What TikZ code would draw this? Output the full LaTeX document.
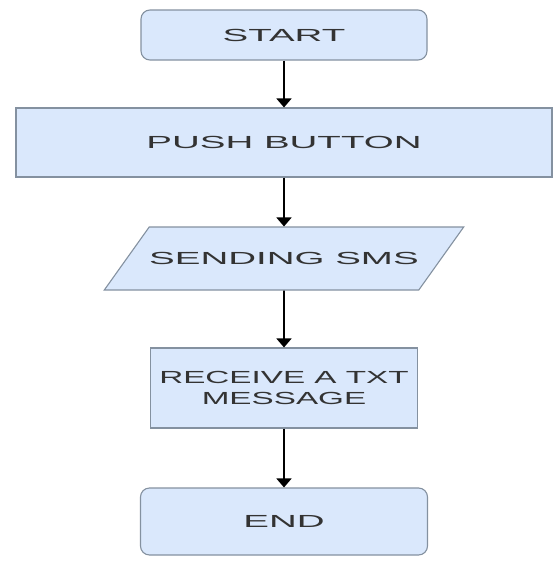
\documentclass[tikz,border=0pt]{standalone}
\usepackage{fontspec}
\newfontfamily\boxfont[FakeStretch=2.2]{Liberation Sans}
\newfontfamily\msgfont[FakeStretch=1.9]{Liberation Sans}
\usepackage{tikz}
\usetikzlibrary{shapes, arrows.meta, positioning}
\definecolor{boxfill}{HTML}{DAE8FC}
\definecolor{boxline}{HTML}{8491A0}
\definecolor{boxtext}{HTML}{333333}

\tikzset{
  base/.style={draw=boxline, fill=boxfill, line width=1.1pt, text=boxtext,
    font=\boxfont\fontsize{17.5}{20.5}\selectfont, align=center, inner sep=0pt},
  term/.style={base, rectangle, rounded corners=9pt},
  proc/.style={base, rectangle},
  io/.style={base, trapezium, trapezium left angle=54.5,
    trapezium right angle=125.5, text height=12.6pt,
    text depth=0pt, inner xsep=0pt, inner ysep=25.2pt},
  flow/.style={-{Triangle[width=15pt,length=9pt]}, line width=1.6pt}
}

\begin{document}
\begin{tikzpicture}[node distance=110pt, on grid]
  \useasboundingbox (0,0) rectangle (557pt,-568pt);
  \node[term, minimum width=286pt, minimum height=50pt] (s_start) at (284pt,-35pt) {START};
  \node[proc, minimum width=536pt, minimum height=69pt] (s_push) [below=107.5pt of s_start] {PUSH BUTTON};
  \node[io] (s_sms) [below=116pt of s_push] {SENDING SMS};
  \node[proc, minimum width=267pt, minimum height=80pt,
    font=\msgfont\fontsize{17.5}{20.5}\selectfont] (s_msg) [below=129.5pt of s_sms] {RECEIVE A TXT\\MESSAGE};
  \node[term, minimum width=287pt, minimum height=67pt] (s_end) [below=133.5pt of s_msg] {END};
  \draw[flow] (s_start) -- (s_push);
  \draw[flow] (s_push) -- (s_sms);
  \draw[flow] (s_sms) -- (s_msg);
  \draw[flow] (s_msg) -- (s_end);
\end{tikzpicture}
\end{document}
